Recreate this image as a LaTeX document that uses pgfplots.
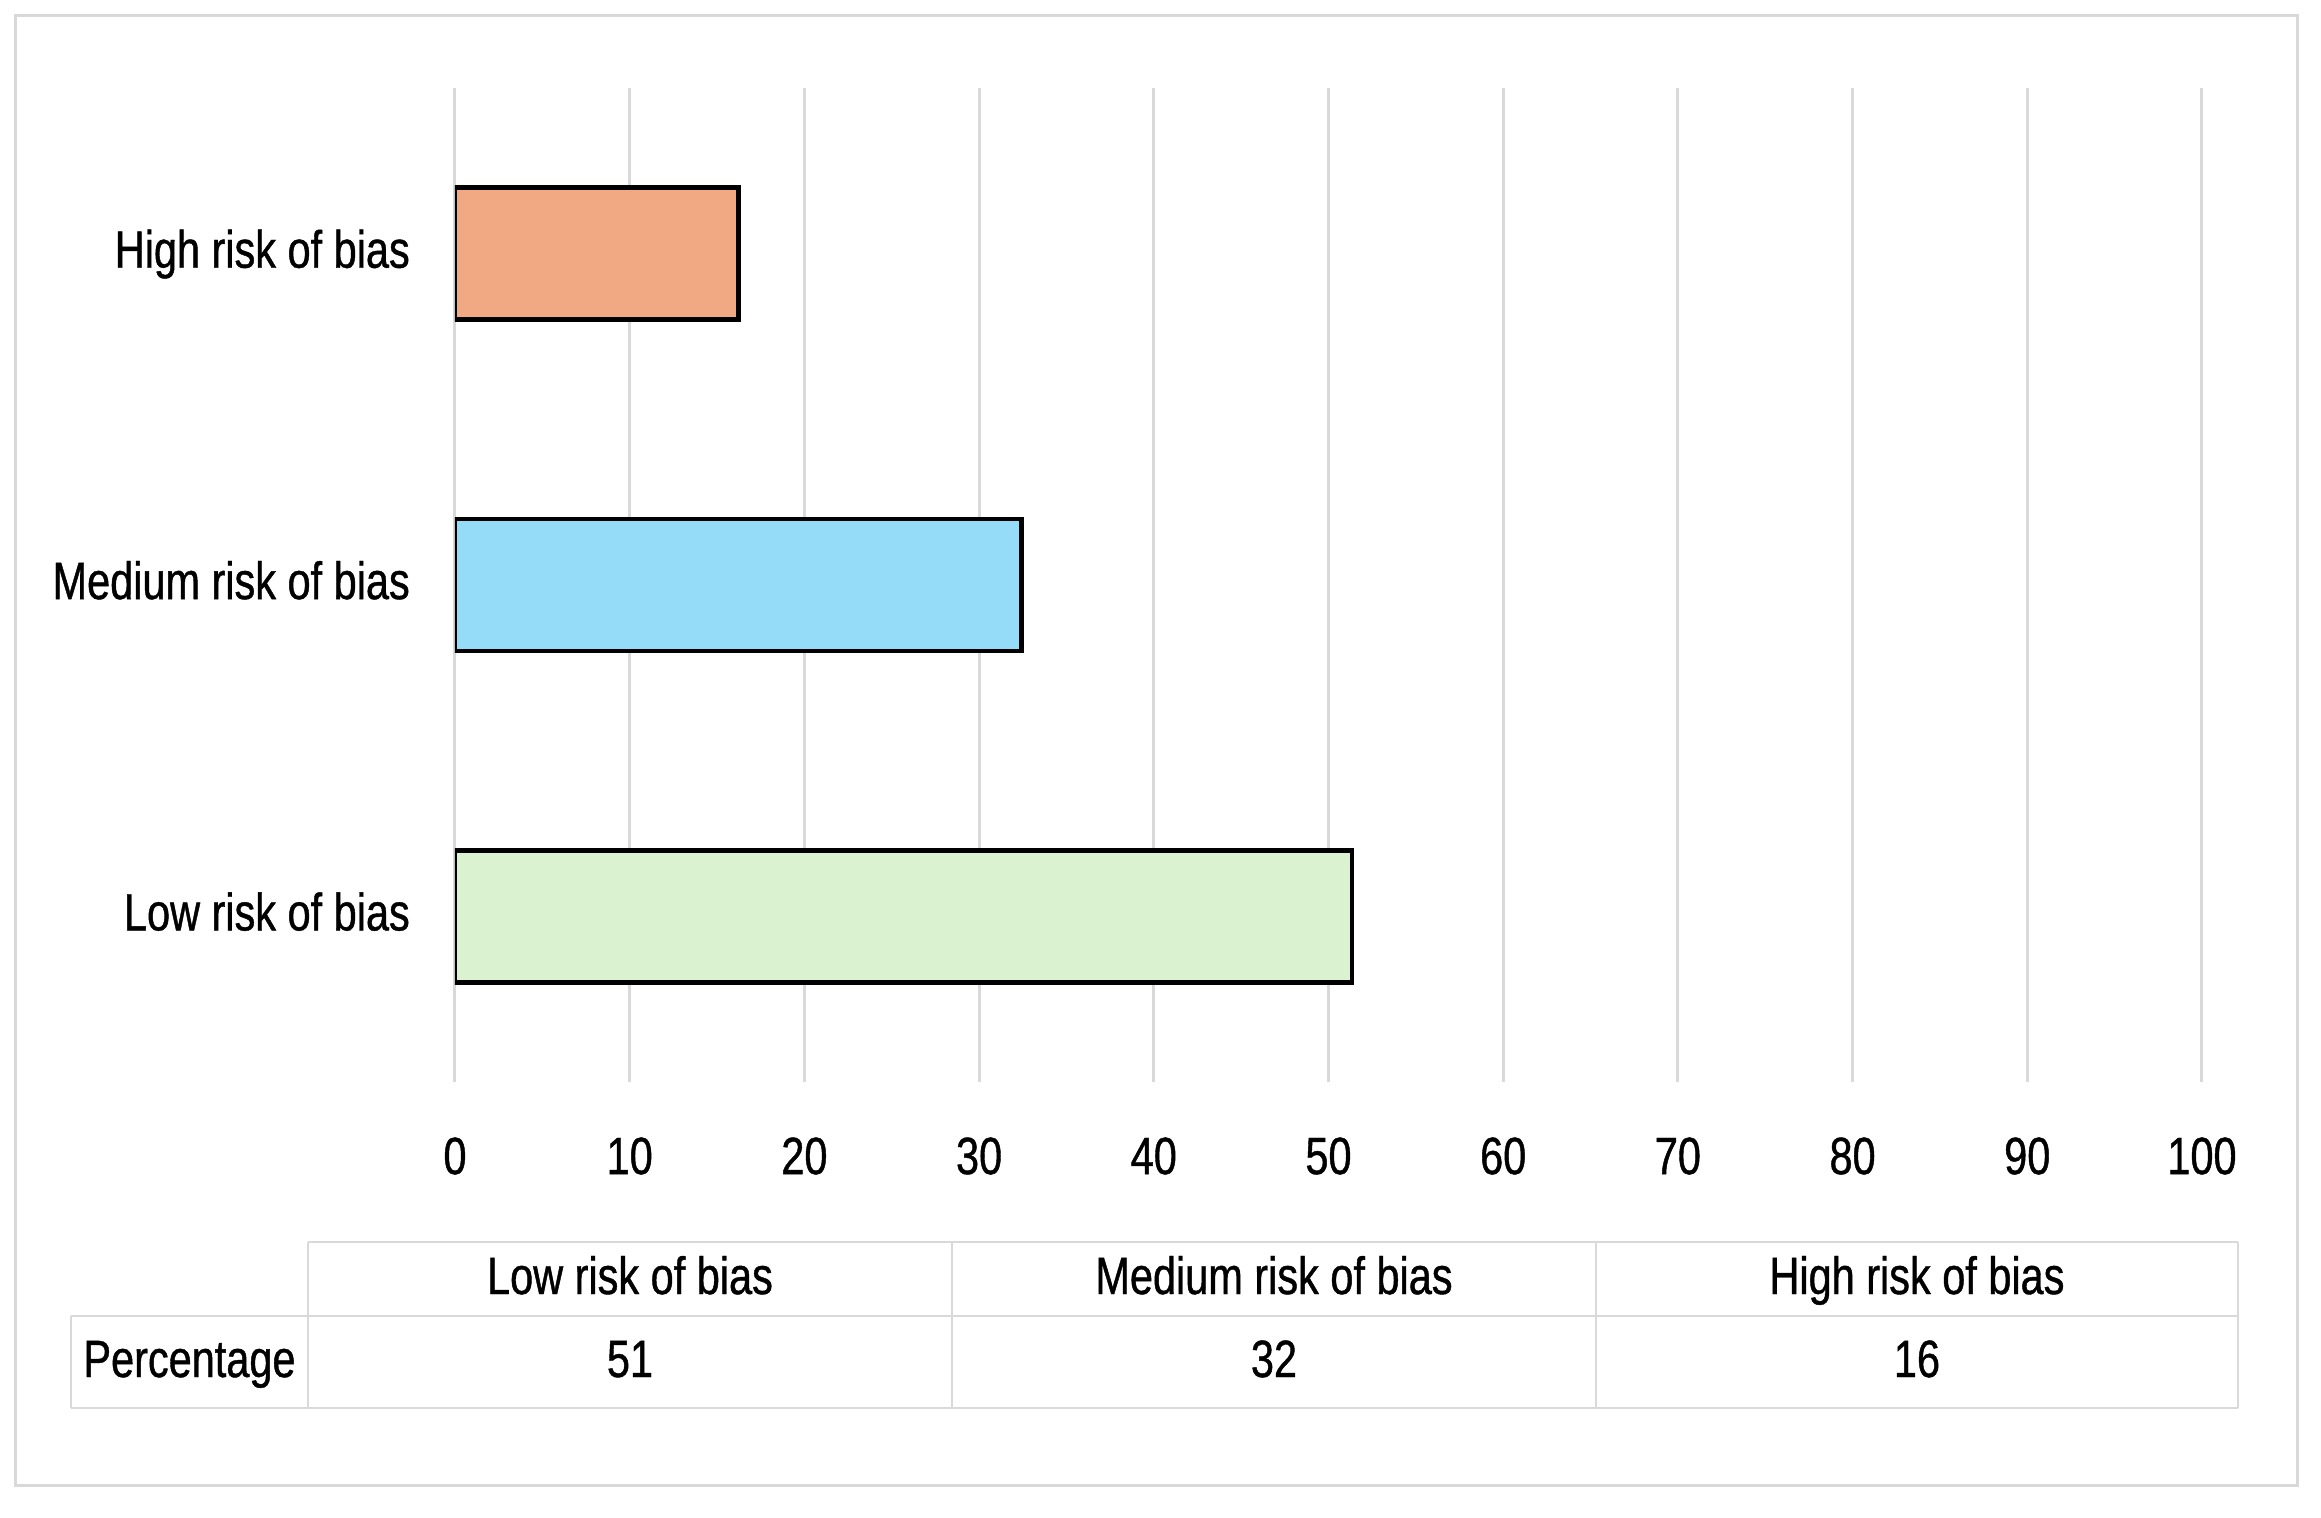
\documentclass[border=0pt]{standalone}
\usepackage{fontspec}
\setmainfont{Liberation Sans}[FakeStretch=0.79, FakeBold=0.8]
\usepackage{pgfplots}
\pgfplotsset{compat=1.18}

\definecolor{highc}{HTML}{F1A983}
\definecolor{medc}{HTML}{94DCF8}
\definecolor{lowc}{HTML}{DAF2D0}
\definecolor{gridc}{HTML}{D9D9D9}
\newcommand\lbl{\fontsize{10.5pt}{12pt}\selectfont}

\begin{document}
\begin{tikzpicture}
% page: 2321 x 1517 px at 0.2pt per px
\fill[white] (0,0) rectangle (464.2pt,-303.4pt);
\draw[gridc, line width=0.6pt] (3pt,-3pt) rectangle (459.4pt,-297pt);

\begin{axis}[
  at={(91pt,-216.4pt)}, anchor=south west,
  width=349.4pt, height=198.8pt, scale only axis,
  xbar, bar width=26.4pt,
  xmin=0, xmax=100, ymin=-0.5, ymax=2.5,
  xtick={0,10,...,100}, ytick={0,1,2},
  yticklabels={Low risk of bias, Medium risk of bias, High risk of bias},
  xmajorgrids, grid style={draw=gridc, line width=0.6pt},
  axis line style={draw=none}, major tick length=0pt,
  tick label style={font=\lbl},
  /pgf/number format/assume math mode=true,
  xticklabel style={anchor=center, yshift=-14.8pt},
  yticklabel style={anchor=east, xshift=-5.5pt, yshift=1pt, text depth=0pt},
]
  % 19, 12 and 6 of 37 studies
  \addplot[bar shift=0pt, draw=black, line width=0.9pt, fill=lowc]
    coordinates {(51.35,0)};
  \addplot[bar shift=0pt, draw=black, line width=0.9pt, fill=medc]
    coordinates {(32.43,1)};
  \addplot[bar shift=0pt, draw=black, line width=0.9pt, fill=highc]
    coordinates {(16.22,2)};
\end{axis}

% data table under the chart
\begin{scope}[gridc, line width=0.55pt]
  \draw (61.6pt,-248.4pt) -- (447.6pt,-248.4pt);
  \draw (14.2pt,-263.2pt) -- (447.6pt,-263.2pt);
  \draw (14.2pt,-281.6pt) -- (447.6pt,-281.6pt);
  \draw (14.2pt,-263.2pt) -- (14.2pt,-281.6pt);
  \foreach \xx in {61.6,190.4,319.2,447.6}
    \draw (\xx pt,-248.4pt) -- (\xx pt,-281.6pt);
\end{scope}
\begin{scope}[every node/.style={font=\lbl, anchor=base, inner sep=0pt}]
  \node at (126pt,-258.8pt) {Low risk of bias};
  \node at (254.8pt,-258.8pt) {Medium risk of bias};
  \node at (383.4pt,-258.8pt) {High risk of bias};
  \node at (37.9pt,-275.4pt) {Percentage};
  \node at (126pt,-275.4pt) {51};
  \node at (254.8pt,-275.4pt) {32};
  \node at (383.4pt,-275.4pt) {16};
\end{scope}
\end{tikzpicture}
\end{document}
